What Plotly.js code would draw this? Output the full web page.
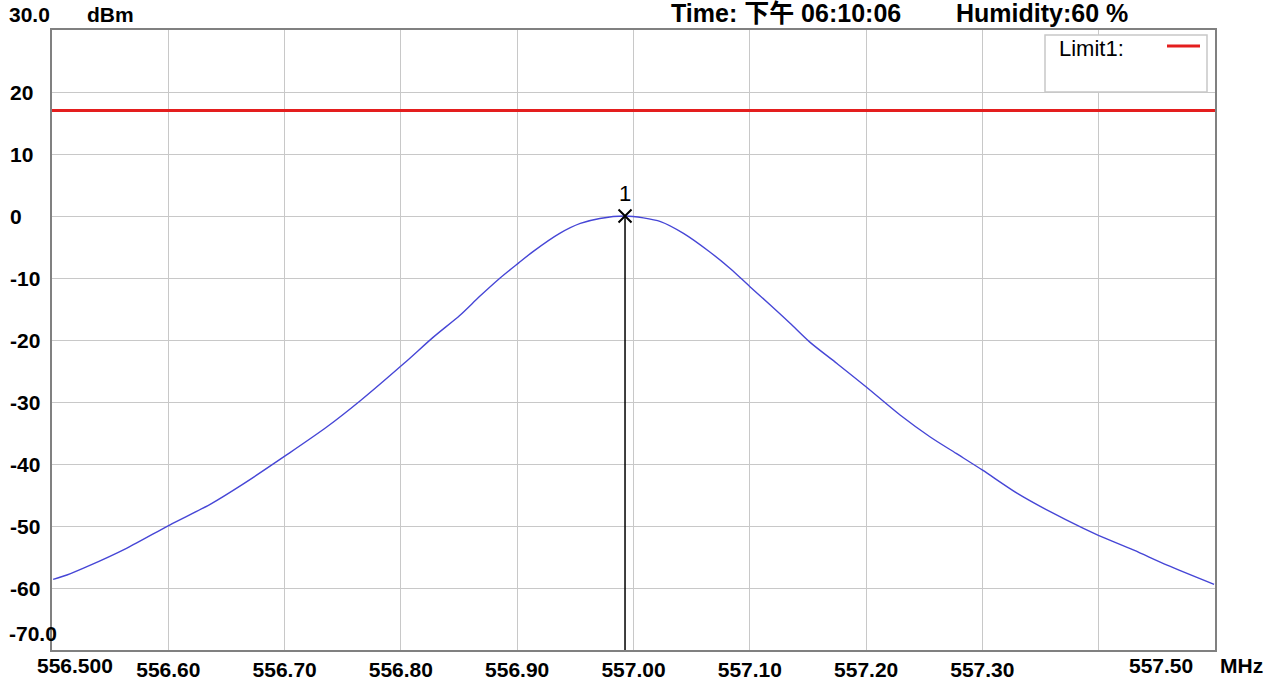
<!DOCTYPE html>
<html>
<head>
<meta charset="utf-8">
<script src="https://cdn.plot.ly/plotly-3.0.1.min.js"></script>
<style>html,body{margin:0;padding:0;background:#fff;}#chart{width:1275px;height:680px;}</style>
</head>
<body>
<div id="chart"></div>
<script>
// ---- data ----
const freqMHz = [556.501, 556.513, 556.530, 556.565, 556.603, 556.638, 556.667, 556.705, 556.740, 556.769,
                 556.807, 556.833, 556.856, 556.873, 556.891, 556.907, 556.920, 556.943, 556.961, 556.978,
                 557.000, 557.016, 557.031, 557.051, 557.074, 557.092, 557.109, 557.127, 557.144, 557.161,
                 557.185, 557.210, 557.240, 557.266, 557.289, 557.312, 557.342, 557.371, 557.400, 557.413,
                 557.444, 557.473, 557.514];
const levelDbm = [-58.6, -57.9, -56.6, -53.6, -49.8, -46.5, -43.2, -38.5, -34.0, -29.8,
                  -23.8, -19.5, -16.0, -13.0, -10.0, -7.6, -5.7, -2.8, -1.2, -0.4,
                  0.0, -0.3, -0.9, -2.8, -5.8, -8.5, -11.4, -14.4, -17.3, -20.3,
                  -23.8, -27.5, -32.1, -35.6, -38.3, -41.0, -44.7, -47.7, -50.4, -51.5,
                  -53.9, -56.3, -59.4];
const limitDbm = 17;
const markerFreq = 557.000;
const markerLevel = 0.0;
const markerName = "1";
const xStart = 556.5, xStop = 557.5148;
const gridFreqs = [556.6015, 556.7030, 556.8044, 556.9059, 557.0074, 557.1089, 557.2104, 557.3118, 557.4133];
const gridLabels = ["556.60", "556.70", "556.80", "556.90", "557.00", "557.10", "557.20", "557.30", ""];
const yTicks = [20, 10, 0, -10, -20, -30, -40, -50, -60];
const yMax = 30, yMin = -70;
const timeText = "Time: 下午 06:10:06";
const humidityText = "Humidity:60 %";
const legendText = "Limit1:";

const FONT = '"Liberation Sans", Arial, sans-serif';
const CJK = '"Liberation Sans", "Noto Sans CJK SC", sans-serif';

const traces = [
  {x: freqMHz, y: levelDbm, type: 'scatter', mode: 'lines',
   line: {color: '#4646d6', width: 1.4, shape: 'spline', smoothing: 0.8}, hoverinfo: 'skip'},
  {x: [xStart, xStop], y: [limitDbm, limitDbm], type: 'scatter', mode: 'lines',
   line: {color: '#e41e1e', width: 3}, hoverinfo: 'skip'},
  {x: [markerFreq, markerFreq], y: [yMin, markerLevel], type: 'scatter', mode: 'lines',
   line: {color: '#000', width: 1.5}, hoverinfo: 'skip'},
  {x: [markerFreq], y: [markerLevel], type: 'scatter', mode: 'markers+text',
   marker: {symbol: 'x-thin', size: 13, line: {color: '#000', width: 2}},
   text: [markerName], textposition: 'top center',
   textfont: {family: FONT, size: 22, color: '#000'}, hoverinfo: 'skip'}
];

const bold = (s) => ({family: FONT, size: s, color: '#000', weight: 'bold'});
const annotations = [];
yTicks.forEach(v => annotations.push({
  x: -0.038, xref: 'paper', xanchor: 'left', y: v, yref: 'y', yanchor: 'middle',
  text: String(v), showarrow: false, font: bold(21)
}));
annotations.push(
  {x: -0.0385, xref: 'paper', xanchor: 'left', y: 1.0242, yref: 'paper', yanchor: 'middle',
   text: yMax.toFixed(1), showarrow: false, font: bold(21)},
  {x: -0.0385, xref: 'paper', xanchor: 'left', y: 0.027, yref: 'paper', yanchor: 'middle',
   text: yMin.toFixed(1), showarrow: false, font: bold(21)},
  {x: 0.0284, xref: 'paper', xanchor: 'left', y: 1.0242, yref: 'paper', yanchor: 'middle',
   text: 'dBm', showarrow: false, font: bold(21)},
  {x: -0.0145, xref: 'paper', xanchor: 'left', y: -0.0242, yref: 'paper', yanchor: 'middle',
   text: xStart.toFixed(3), showarrow: false, font: bold(21)},
  {x: 0.9536, xref: 'paper', xanchor: 'center', y: -0.0242, yref: 'paper', yanchor: 'middle',
   text: '557.50', showarrow: false, font: bold(21)},
  {x: 1.0026, xref: 'paper', xanchor: 'left', y: -0.0242, yref: 'paper', yanchor: 'middle',
   text: 'MHz', showarrow: false, font: bold(21)},
  {x: (669 - 52) / 1163, xref: 'paper', xanchor: 'left', y: 1.0274, yref: 'paper', yanchor: 'middle',
   text: timeText, showarrow: false, font: {family: CJK, size: 25, color: '#000', weight: 'bold'}},
  {x: (954 - 52) / 1163, xref: 'paper', xanchor: 'left', y: 1.0274, yref: 'paper', yanchor: 'middle',
   text: humidityText, showarrow: false, font: {family: CJK, size: 25, color: '#000', weight: 'bold'}},
  {x: (1057 - 52) / 1163, xref: 'paper', xanchor: 'left', y: 1 - 18 / 620, yref: 'paper', yanchor: 'middle',
   text: legendText, showarrow: false, font: {family: FONT, size: 22, color: '#000'}}
);

const shapes = [
  {type: 'rect', xref: 'paper', yref: 'paper', x0: (1045 - 52) / 1163, x1: (1207 - 52) / 1163,
   y0: 1 - (92 - 30) / 620, y1: 1 - (35 - 30) / 620, line: {color: '#c8c8c8', width: 1.5}, fillcolor: '#fff', layer: 'above'},
  {type: 'line', xref: 'paper', yref: 'paper', x0: (1167 - 52) / 1163, x1: (1200 - 52) / 1163,
   y0: 1 - 16 / 620, y1: 1 - 16 / 620, line: {color: '#e41e1e', width: 3}, layer: 'above'}
];

const layout = {
  width: 1275, height: 680,
  margin: {l: 52, r: 60, t: 30, b: 30, pad: 0},
  paper_bgcolor: '#fff', plot_bgcolor: '#fff',
  showlegend: false,
  xaxis: {range: [xStart, xStop], tickmode: 'array', tickvals: gridFreqs, ticktext: gridLabels,
          showgrid: true, gridcolor: '#c8c8c8', gridwidth: 1, zeroline: false,
          showline: true, mirror: true, linecolor: '#808080', linewidth: 2, ticks: '',
          tickfont: bold(21), fixedrange: true},
  yaxis: {range: [yMin, yMax], tickmode: 'array', tickvals: yTicks, showticklabels: false,
          showgrid: true, gridcolor: '#c8c8c8', gridwidth: 1, zeroline: false,
          showline: true, mirror: true, linecolor: '#808080', linewidth: 2, ticks: '', fixedrange: true},
  annotations: annotations,
  shapes: shapes
};

Plotly.newPlot('chart', traces, layout, {displayModeBar: false, staticPlot: true});
</script>
</body>
</html>
